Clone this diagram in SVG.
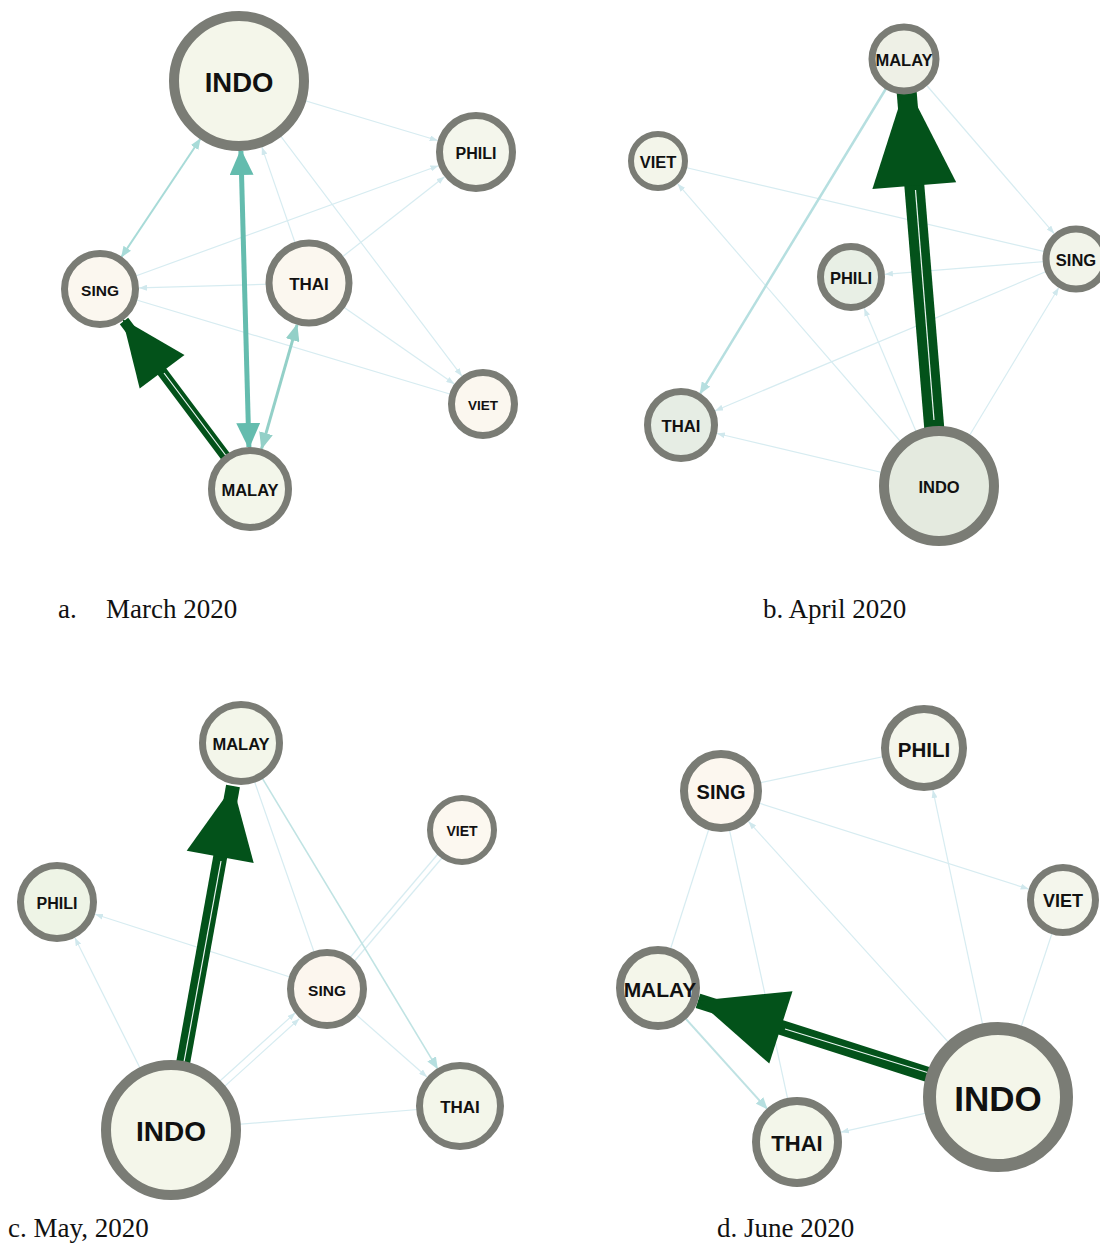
<svg xmlns="http://www.w3.org/2000/svg" width="1100" height="1243" viewBox="0 0 1100 1243">
<defs>
<style>
.node circle{stroke:#7a7c75;}
.lbl{font-family:"Liberation Sans",Arial,sans-serif;font-weight:bold;fill:#111;text-anchor:middle;dominant-baseline:central;}
.cap{font-family:"Liberation Serif","Times New Roman",serif;font-size:27px;fill:#111;}
.thin{stroke:#d7ecf1;stroke-width:1.2;fill:none;}
.thinA{stroke:#d7ecf1;stroke-width:1.2;fill:none;marker-end:url(#mThin);}
.dark{stroke:#03521a;fill:none;}
.inner{stroke:#eaf6f2;stroke-width:1.2;fill:none;}
.head{fill:#03521a;}
</style>
<marker id="mThin" markerUnits="userSpaceOnUse" markerWidth="8" markerHeight="6" refX="8" refY="3" orient="auto"><path d="M0,0 L8,3 L0,6 z" fill="#d0e8ed"/></marker>
<marker id="mTealBig" markerUnits="userSpaceOnUse" markerWidth="26" markerHeight="24" refX="24" refY="12" orient="auto-start-reverse"><path d="M0,0 L26,12 L0,24 z" fill="#64bcae"/></marker>
<marker id="mTealMed" markerUnits="userSpaceOnUse" markerWidth="17" markerHeight="14" refX="16" refY="7" orient="auto-start-reverse"><path d="M0,0 L17,7 L0,14 z" fill="#93d0c8"/></marker>
<marker id="mTealLight" markerUnits="userSpaceOnUse" markerWidth="11" markerHeight="9" refX="10" refY="4.5" orient="auto-start-reverse"><path d="M0,0 L11,4.5 L0,9 z" fill="#a8dbd8"/></marker>
<marker id="mBlue" markerUnits="userSpaceOnUse" markerWidth="12" markerHeight="10" refX="11" refY="5" orient="auto"><path d="M0,0 L12,5 L0,10 z" fill="#b6dfe0"/></marker>
</defs>
<rect width="1100" height="1243" fill="#ffffff"/>

<g id="connectors">
<!-- Panel a -->
<line class="thinA" x1="239" y1="81" x2="437.7" y2="140.5"/>
<line class="thinA" x1="100" y1="289" x2="438.4" y2="165.7"/>
<line class="thinA" x1="309" y1="283" x2="444.5" y2="176.7"/>
<line class="thinA" x1="309" y1="283" x2="261.9" y2="147.1"/>
<line class="thinA" x1="239" y1="81" x2="461.9" y2="376.1"/>
<line class="thinA" x1="309" y1="283" x2="454.3" y2="384"/>
<line class="thin" x1="100" y1="289" x2="483" y2="404"/>
<line class="thinA" x1="309" y1="283" x2="139" y2="287.9"/>
<line x1="121.7" y1="256.6" x2="200.1" y2="139.2" stroke="#a8dbd8" stroke-width="2" marker-start="url(#mTealLight)" marker-end="url(#mTealLight)"/>
<line x1="297" y1="324.8" x2="261.6" y2="448.6" stroke="#93d0c8" stroke-width="3" marker-start="url(#mTealMed)" marker-end="url(#mTealMed)"/>
<line x1="240.9" y1="151" x2="248.9" y2="447" stroke="#64bcae" stroke-width="5" marker-start="url(#mTealBig)" marker-end="url(#mTealBig)"/>
<line class="dark" stroke-width="10.5" x1="250" y1="489" x2="124" y2="321"/>
<polygon class="head" points="122.5,319 184.5,355 139.7,388.6"/>
<line class="inner" x1="164" y1="373" x2="227" y2="457"/>

<!-- Panel b -->
<line class="thinA" x1="904" y1="59" x2="1054.2" y2="233.6"/>
<line class="thin" x1="658" y1="161" x2="1076" y2="259"/>
<line class="thinA" x1="1076" y1="259" x2="884.9" y2="274.3"/>
<line class="thinA" x1="1076" y1="259" x2="715.1" y2="410.7"/>
<line class="thinA" x1="939" y1="486" x2="677.6" y2="183.7"/>
<line class="thinA" x1="939" y1="486" x2="864.2" y2="308.3"/>
<line class="thinA" x1="939" y1="486" x2="1058.7" y2="287.7"/>
<line class="thinA" x1="939" y1="486" x2="717" y2="433.5"/>
<line x1="904" y1="59" x2="700.3" y2="393.4" stroke="#b6dfe0" stroke-width="2.5" marker-end="url(#mBlue)"/>
<line class="dark" stroke-width="20" x1="939" y1="486" x2="906" y2="84"/>
<polygon class="head" points="906,84 956.2,182.3 872.4,189.1"/>
<line class="inner" x1="915.5" y1="190" x2="934" y2="420"/>

<!-- Panel c -->
<line class="thin" x1="241" y1="743" x2="327" y2="989"/>
<line class="thinA" x1="327" y1="989" x2="95.1" y2="914.3"/>
<line class="thinA" x1="171" y1="1130" x2="74.9" y2="937.8"/>
<line class="thin" x1="329" y1="991" x2="464" y2="832"/>
<line class="thin" x1="325" y1="987" x2="460" y2="828"/>
<line class="thinA" x1="173" y1="1133" x2="299.3" y2="1018.8"/>
<line class="thinA" x1="169" y1="1127" x2="295.3" y2="1012.8"/>
<line class="thinA" x1="327" y1="989" x2="427" y2="1077"/>
<line class="thin" x1="171" y1="1130" x2="460" y2="1106"/>
<line x1="241" y1="743" x2="437.3" y2="1068.3" stroke="#c0e3e3" stroke-width="1.6" marker-end="url(#mBlue)"/>
<line class="dark" stroke-width="14" x1="171" y1="1130" x2="233" y2="786"/>
<polygon class="head" points="233,786 253.7,862.9 186.7,850.7"/>
<line class="inner" x1="221" y1="861" x2="184" y2="1062"/>

<!-- Panel d -->
<line class="thin" x1="721" y1="791" x2="924" y2="748"/>
<line class="thinA" x1="721" y1="791" x2="1028.7" y2="889.1"/>
<line class="thin" x1="721" y1="791" x2="658" y2="988"/>
<line class="thin" x1="721" y1="791" x2="797" y2="1142"/>
<line class="thinA" x1="998" y1="1097" x2="748.5" y2="821.4"/>
<line class="thinA" x1="998" y1="1097" x2="932.9" y2="790.1"/>
<line class="thin" x1="998" y1="1097" x2="1063" y2="900"/>
<line class="thinA" x1="998" y1="1097" x2="840.9" y2="1132.2"/>
<line x1="658" y1="988" x2="766.9" y2="1108.6" stroke="#bfe2e3" stroke-width="2" marker-end="url(#mBlue)"/>
<line class="dark" stroke-width="15" x1="998" y1="1097" x2="698" y2="1000.8"/>
<polygon class="head" points="698,1000.8 792.5,991.2 769.3,1063.6"/>
<line class="inner" x1="785" y1="1029" x2="929" y2="1073"/>
</g>

<!-- Panel a nodes -->
<g id="a-INDO" class="node"><circle cx="239" cy="81" r="65" stroke-width="10" fill="#f4f6ea"/><text class="lbl" x="239" y="82" font-size="27.5">INDO</text></g>
<g id="a-PHILI" class="node"><circle cx="476" cy="152" r="36.5" stroke-width="7" fill="#f4f6ec"/><text class="lbl" x="476" y="153" font-size="16">PHILI</text></g>
<g id="a-SING" class="node"><circle cx="100" cy="289" r="35.5" stroke-width="7" fill="#fbf7ef"/><text class="lbl" x="100" y="290" font-size="15.5">SING</text></g>
<g id="a-THAI" class="node"><circle cx="309" cy="283" r="40" stroke-width="7" fill="#fbf7ef"/><text class="lbl" x="309" y="284" font-size="17">THAI</text></g>
<g id="a-VIET" class="node"><circle cx="483" cy="404" r="31.5" stroke-width="7" fill="#fbf7ef"/><text class="lbl" x="483" y="405" font-size="13.5">VIET</text></g>
<g id="a-MALAY" class="node"><circle cx="250" cy="489" r="38.5" stroke-width="7" fill="#f3f6ea"/><text class="lbl" x="250" y="490" font-size="16.5">MALAY</text></g>

<!-- Panel b nodes -->
<g id="b-MALAY" class="node"><circle cx="904" cy="59" r="32" stroke-width="7" fill="#eef0e6"/><text class="lbl" x="904" y="60" font-size="16.5">MALAY</text></g>
<g id="b-VIET" class="node"><circle cx="658" cy="161" r="27" stroke-width="6" fill="#f3f5ea"/><text class="lbl" x="658" y="162" font-size="16.5">VIET</text></g>
<g id="b-SING" class="node"><circle cx="1076" cy="259" r="30" stroke-width="7" fill="#f2f4ea"/><text class="lbl" x="1076" y="260" font-size="16.5">SING</text></g>
<g id="b-PHILI" class="node"><circle cx="851" cy="277" r="30.5" stroke-width="7" fill="#e8efe5"/><text class="lbl" x="851" y="278" font-size="16.5">PHILI</text></g>
<g id="b-THAI" class="node"><circle cx="681" cy="425" r="33.5" stroke-width="7" fill="#e6ede4"/><text class="lbl" x="681" y="426" font-size="16.7">THAI</text></g>
<g id="b-INDO" class="node"><circle cx="939" cy="486" r="55" stroke-width="10" fill="#e4eadf"/><text class="lbl" x="939" y="487" font-size="16.5">INDO</text></g>

<!-- Panel c nodes -->
<g id="c-MALAY" class="node"><circle cx="241" cy="743" r="38.5" stroke-width="7" fill="#f3f6ea"/><text class="lbl" x="241" y="744" font-size="16.5">MALAY</text></g>
<g id="c-VIET" class="node"><circle cx="462" cy="830" r="32" stroke-width="6" fill="#fcf8f0"/><text class="lbl" x="462" y="831" font-size="14">VIET</text></g>
<g id="c-PHILI" class="node"><circle cx="57" cy="902" r="36.5" stroke-width="7" fill="#eef4e6"/><text class="lbl" x="57" y="903" font-size="16">PHILI</text></g>
<g id="c-SING" class="node"><circle cx="327" cy="989" r="36.5" stroke-width="7" fill="#fcf6ee"/><text class="lbl" x="327" y="990" font-size="15.5">SING</text></g>
<g id="c-THAI" class="node"><circle cx="460" cy="1106" r="40.5" stroke-width="7" fill="#f3f6ea"/><text class="lbl" x="460" y="1107" font-size="17">THAI</text></g>
<g id="c-INDO" class="node"><circle cx="171" cy="1130" r="65" stroke-width="10" fill="#f4f6ea"/><text class="lbl" x="171" y="1131" font-size="28">INDO</text></g>

<!-- Panel d nodes -->
<g id="d-PHILI" class="node"><circle cx="924" cy="748" r="39" stroke-width="8" fill="#f4f6ec"/><text class="lbl" x="924" y="749" font-size="20.5">PHILI</text></g>
<g id="d-SING" class="node"><circle cx="721" cy="791" r="37" stroke-width="8" fill="#fcf7ef"/><text class="lbl" x="721" y="792" font-size="20">SING</text></g>
<g id="d-VIET" class="node"><circle cx="1063" cy="900" r="32.5" stroke-width="7" fill="#f4f6ec"/><text class="lbl" x="1063" y="901" font-size="18">VIET</text></g>
<g id="d-MALAY" class="node"><circle cx="658" cy="988" r="38" stroke-width="8" fill="#f4f6ea"/><text class="lbl" x="660" y="989" font-size="21">MALAY</text></g>
<g id="d-THAI" class="node"><circle cx="797" cy="1142" r="41" stroke-width="8" fill="#f3f6ea"/><text class="lbl" x="797" y="1143" font-size="22">THAI</text></g>
<g id="d-INDO" class="node"><circle cx="998" cy="1097" r="68.5" stroke-width="13" fill="#f4f6ea"/><text class="lbl" x="998" y="1098" font-size="35">INDO</text></g>

<g id="captions">
<text class="cap" x="58" y="618">a.</text>
<text class="cap" x="106" y="618">March 2020</text>
<text class="cap" x="763" y="618">b. April 2020</text>
<text class="cap" x="8" y="1237">c. May, 2020</text>
<text class="cap" x="717" y="1237">d. June 2020</text>
</g>
</svg>
